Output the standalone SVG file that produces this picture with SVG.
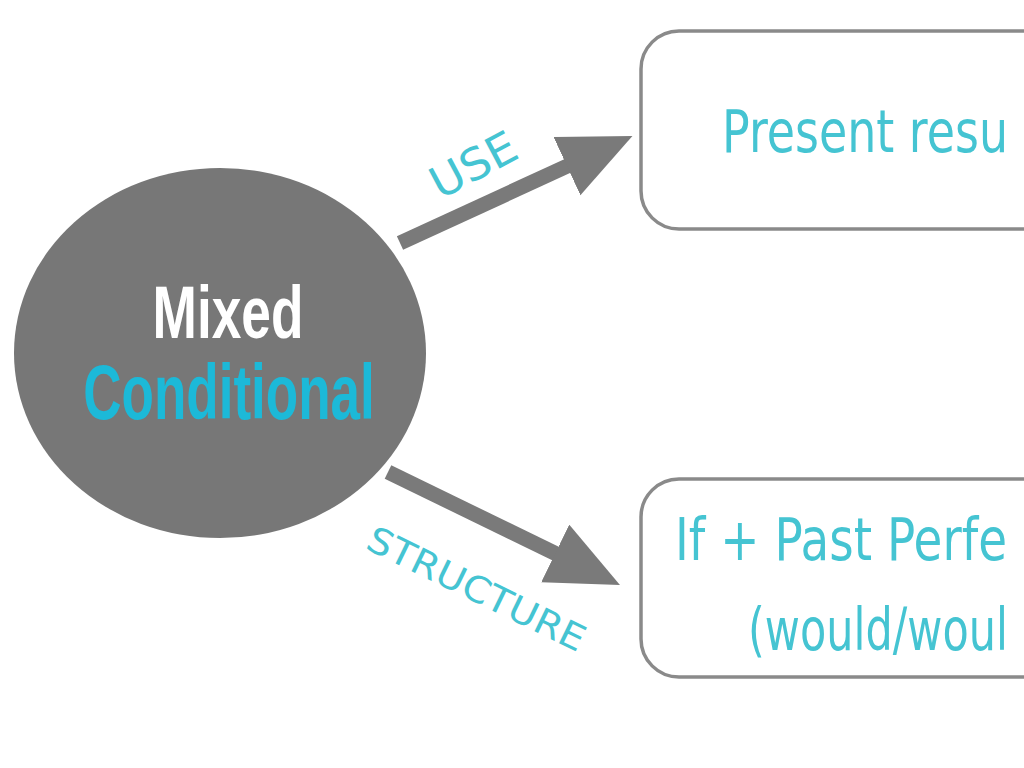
<svg xmlns="http://www.w3.org/2000/svg" width="1024" height="768" viewBox="0 0 1024 768">
<style>
.box{fill:#ffffff;stroke:#8a8a8a;stroke-width:3.5}
.btxt{font-family:"DejaVu Sans","Noto Sans",sans-serif;fill:#45c4d2;font-size:58px}
.lbl{font-family:"DejaVu Sans","Noto Sans",sans-serif;fill:#45c4d2}
.conn{stroke:#7a7a7a;stroke-width:15;fill:none}
</style>
<defs>
<marker id="ah" markerUnits="userSpaceOnUse" markerWidth="80" markerHeight="66" refX="22" refY="32" orient="auto">
<path d="M0,0 L72,32 L0,64 z" fill="#7a7a7a"/>
</marker>
</defs>
<rect width="1024" height="768" fill="#ffffff"/>
<g id="connectors">
<line class="conn" x1="400" y1="243" x2="587" y2="157" marker-end="url(#ah)"/>
<line class="conn" x1="388" y1="472" x2="575" y2="563" marker-end="url(#ah)"/>
<text class="lbl" font-size="44" transform="translate(440,200) rotate(-28)" textLength="92" lengthAdjust="spacingAndGlyphs">USE</text>
<text class="lbl" font-size="36" transform="translate(364,548) rotate(26)" textLength="238" lengthAdjust="spacingAndGlyphs">STRUCTURE</text>
</g>
<g id="node-center">
<ellipse cx="220" cy="353" rx="206" ry="185" fill="#777777"/>
<text x="0" y="0" transform="translate(228,338) scale(0.72,1)" text-anchor="middle" font-family="'Liberation Sans',Arial,sans-serif" font-weight="bold" font-size="74" fill="#ffffff">Mixed</text>
<text x="0" y="0" transform="translate(229,419) scale(0.68,1)" text-anchor="middle" font-family="'Liberation Sans',Arial,sans-serif" font-weight="bold" font-size="78" fill="#1cb9d8">Conditional</text>
</g>
<g id="node-use">
<rect class="box" x="641" y="31" width="430" height="198" rx="38"/>
<text class="btxt" x="722" y="152" textLength="286" lengthAdjust="spacingAndGlyphs">Present resu</text>
</g>
<g id="node-structure">
<rect class="box" x="641" y="479" width="430" height="198" rx="38"/>
<text class="btxt" x="675" y="560" font-size="60" textLength="332" lengthAdjust="spacingAndGlyphs">If + Past Perfe</text>
<text class="btxt" x="748" y="650" font-size="60" textLength="260" lengthAdjust="spacingAndGlyphs">(would/woul</text>
</g>
</svg>
